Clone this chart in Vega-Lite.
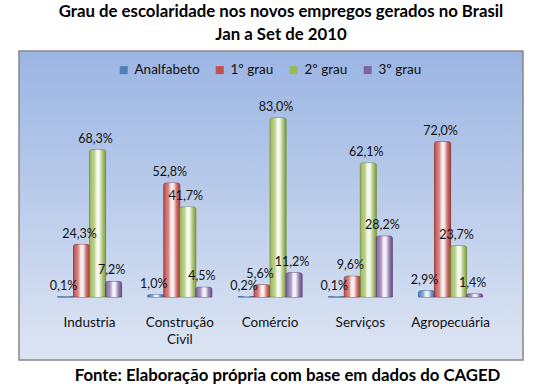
{
  "$schema": "https://vega.github.io/schema/vega-lite/v6.json",
  "width": 504,
  "height": 309,
  "autosize": "none",
  "padding": {"left": 19, "top": 51, "right": 12, "bottom": 29},
  "background": "white",
  "config": {
    "font": "Lato",
    "locale": {"number": {"decimal": ",", "thousands": ".", "grouping": [3], "currency": ["R$", ""]}},
    "view": {
      "stroke": "#888888",
      "strokeWidth": 1.5,
      "fill": {
        "gradient": "linear", "x1": 0, "y1": 0, "x2": 0, "y2": 1,
        "stops": [
          {"offset": 0, "color": "#9bb5e3"},
          {"offset": 1, "color": "#dde5f3"}
        ]
      }
    }
  },
  "title": {
    "text": ["Grau de escolaridade nos novos empregos gerados no Brasil", "Jan a Set de 2010"],
    "fontSize": 16.8,
    "fontWeight": "bold",
    "font": "Lato",
    "color": "#000000",
    "lineHeight": 23,
    "anchor": "middle",
    "frame": "group",
    "dx": 10,
    "offset": 7
  },
  "data": {
    "values": [
      {"setor": "Industria", "grau": "Analfabeto", "v": 0.001},
      {"setor": "Industria", "grau": "1º grau", "v": 0.243},
      {"setor": "Industria", "grau": "2º grau", "v": 0.683},
      {"setor": "Industria", "grau": "3º grau", "v": 0.072},
      {"setor": "Construção|Civil", "grau": "Analfabeto", "v": 0.010},
      {"setor": "Construção|Civil", "grau": "1º grau", "v": 0.528},
      {"setor": "Construção|Civil", "grau": "2º grau", "v": 0.417},
      {"setor": "Construção|Civil", "grau": "3º grau", "v": 0.045},
      {"setor": "Comércio", "grau": "Analfabeto", "v": 0.002},
      {"setor": "Comércio", "grau": "1º grau", "v": 0.056},
      {"setor": "Comércio", "grau": "2º grau", "v": 0.830},
      {"setor": "Comércio", "grau": "3º grau", "v": 0.112},
      {"setor": "Serviços", "grau": "Analfabeto", "v": 0.001},
      {"setor": "Serviços", "grau": "1º grau", "v": 0.096},
      {"setor": "Serviços", "grau": "2º grau", "v": 0.621},
      {"setor": "Serviços", "grau": "3º grau", "v": 0.282},
      {"setor": "Agropecuária", "grau": "Analfabeto", "v": 0.029},
      {"setor": "Agropecuária", "grau": "1º grau", "v": 0.720},
      {"setor": "Agropecuária", "grau": "2º grau", "v": 0.237},
      {"setor": "Agropecuária", "grau": "3º grau", "v": 0.014}
    ]
  },
  "encoding": {
    "x": {
      "field": "setor",
      "type": "nominal",
      "sort": null,
      "scale": {"paddingInner": 0.29, "paddingOuter": 0.437, "align": 0.488},
      "axis": {
        "orient": "bottom",
        "offset": -53,
        "domain": false,
        "ticks": false,
        "labelAngle": 0,
        "labelPadding": 8,
        "labelDx": -4,
        "labelFontSize": 13.5,
        "labelFont": "Lato",
        "labelColor": "#111111",
        "labelLineHeight": 17,
        "labelExpr": "split(datum.label, '|')",
        "title": "Fonte: Elaboração própria com base em dados do CAGED",
        "titleFont": "Lato",
        "titleFontSize": 16.8,
        "titleFontWeight": "bold",
        "titleColor": "#000000",
        "titleX": 268,
        "titleY": 68,
        "titleAlign": "center",
        "titleBaseline": "middle"
      }
    },
    "xOffset": {
      "field": "grau",
      "type": "nominal",
      "sort": ["Analfabeto", "1º grau", "2º grau", "3º grau"],
      "scale": {"paddingInner": 0, "paddingOuter": 0}
    },
    "y": {
      "field": "v",
      "type": "quantitative",
      "scale": {"domain": [-0.292, 1.1405], "nice": false, "zero": false},
      "axis": null
    }
  },
  "layer": [
    {
      "mark": {"type": "bar", "strokeWidth": 0.8, "cornerRadiusTopLeft": 2, "cornerRadiusTopRight": 2},
      "encoding": {
        "y2": {"datum": 0},
        "color": {
          "field": "grau",
          "type": "nominal",
          "sort": ["Analfabeto", "1º grau", "2º grau", "3º grau"],
          "scale": {
            "domain": ["Analfabeto", "1º grau", "2º grau", "3º grau"],
            "range": ["#4f81bd", "#c0504d", "#9bbb59", "#8064a2"]
          },
          "legend": {
            "title": null,
            "orient": "none",
            "direction": "horizontal",
            "legendX": 98,
            "legendY": 12,
            "symbolType": "square",
            "symbolSize": 64,
            "symbolStrokeWidth": 0,
            "labelFontSize": 13.5,
            "labelFont": "Lato",
            "labelColor": "#111111",
            "labelOffset": 4,
            "columnPadding": 13
          }
        },
        "stroke": {
          "field": "grau",
          "type": "nominal",
          "scale": {
            "domain": ["Analfabeto", "1º grau", "2º grau", "3º grau"],
            "range": ["#2f5f95", "#8e2f2c", "#6f8b35", "#5a417a"]
          },
          "legend": null
        }
      }
    },
    {
      "mark": {
        "type": "bar",
        "cornerRadiusTopLeft": 2,
        "cornerRadiusTopRight": 2,
        "color": {
          "gradient": "linear", "x1": 0, "y1": 0, "x2": 1, "y2": 0,
          "stops": [
            {"offset": 0, "color": "rgba(255,255,255,0)"},
            {"offset": 0.3, "color": "rgba(255,255,255,0.35)"},
            {"offset": 0.45, "color": "rgba(255,255,255,0.9)"},
            {"offset": 0.6, "color": "rgba(255,255,255,0.9)"},
            {"offset": 0.8, "color": "rgba(255,255,255,0.2)"},
            {"offset": 1, "color": "rgba(0,0,0,0.1)"}
          ]
        }
      },
      "encoding": {"y2": {"datum": 0}}
    },
    {
      "mark": {"type": "text", "dx": -2, "dy": -11, "fontSize": 12.5, "font": "Lato", "color": "#111111", "baseline": "middle"},
      "encoding": {
        "text": {"field": "v", "type": "quantitative", "format": ".1%"}
      }
    }
  ]
}
